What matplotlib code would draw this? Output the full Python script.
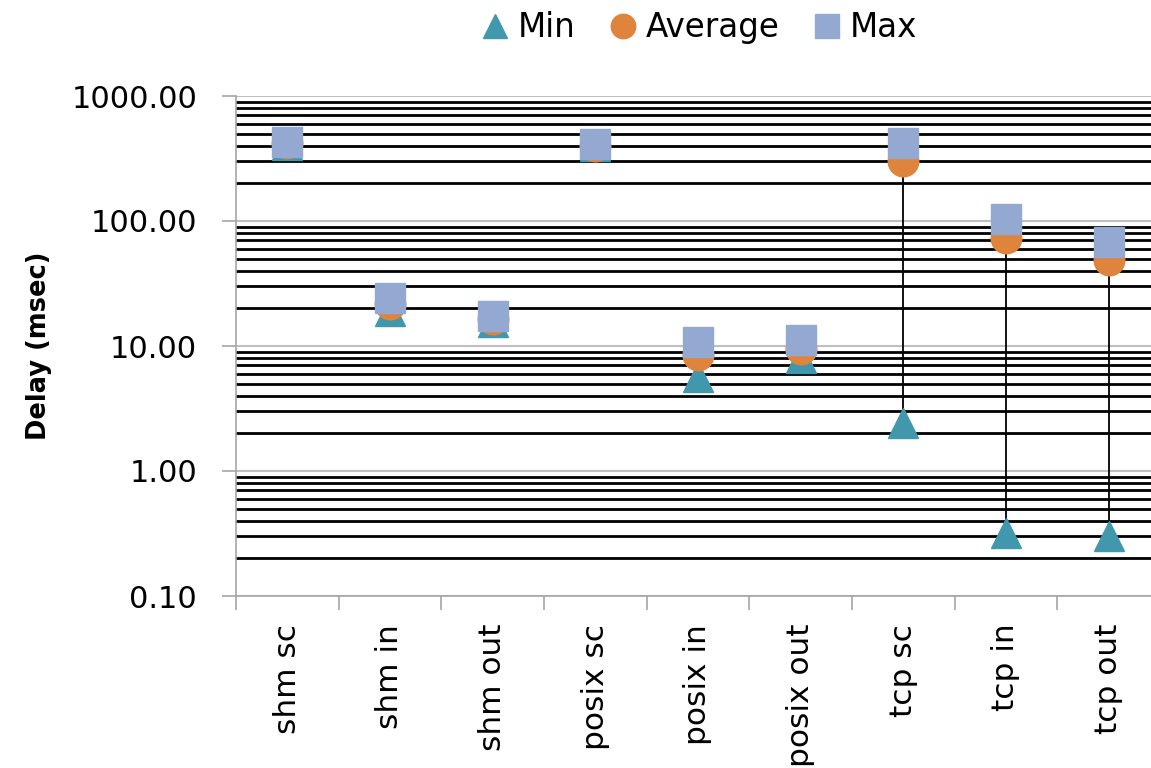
import numpy as np
import matplotlib.pyplot as plt
from matplotlib.ticker import LogLocator, FixedLocator, NullFormatter, FuncFormatter

categories = ['shm sc', 'shm in', 'shm out', 'posix sc', 'posix in',
              'posix out', 'tcp sc', 'tcp in', 'tcp out']
min_delay = [405, 19.0, 15.5, 395, 5.6, 8.0, 2.4, 0.32, 0.30]
avg_delay = [420, 21.5, 16.5, 400, 8.4, 9.4, 300, 73, 49]
max_delay = [430, 24.0, 17.5, 415, 10.8, 11.2, 420, 103, 68]

fig = plt.figure(figsize=(11.51, 7.68), dpi=100)
ax = fig.add_axes([236 / 1151, 172 / 768, (1160 - 236) / 1151, 500 / 768])

x = np.arange(len(categories))

# high-low lines behind the markers
ax.vlines(x, min_delay, max_delay, color='black', lw=1.3, zorder=2)
ax.plot(x, min_delay, ls='none', marker='^', ms=22, color='#4198AD', label='Min', zorder=3)
ax.plot(x, avg_delay, ls='none', marker='o', ms=22, color='#DE843D', label='Average', zorder=4)
ax.plot(x, max_delay, ls='none', marker='s', ms=21, color='#93A9D1', label='Max', zorder=5)

ax.set_yscale('log')
ax.set_ylim(0.1, 1000)
ax.set_xlim(-0.5, len(categories) - 0.5)

ax.yaxis.set_major_locator(LogLocator(base=10, numticks=10))
ax.yaxis.set_minor_locator(LogLocator(base=10, subs=np.arange(2, 10), numticks=10))
ax.yaxis.set_major_formatter(FuncFormatter(lambda v, p: '%.2f' % v))
ax.yaxis.set_minor_formatter(NullFormatter())
ax.grid(True, which='major', axis='y', color='#BFBFBF', lw=1.5, zorder=0)
ax.grid(True, which='minor', axis='y', color='black', lw=2.0, zorder=1)

ax.xaxis.set_major_locator(FixedLocator(np.arange(-0.5, len(categories), 1.0)))
ax.xaxis.set_major_formatter(NullFormatter())
ax.set_xticks(x, minor=True)
ax.set_xticklabels(categories, minor=True, rotation=90, va='top', ha='center', fontsize=22.5)

ax.tick_params(axis='x', which='major', length=10, color='#A6A6A6', width=1.2)
ax.tick_params(axis='x', which='minor', length=0, pad=20)
ax.tick_params(axis='y', which='major', length=10, color='#A6A6A6', width=1.2, labelsize=22, pad=18)
ax.tick_params(axis='y', which='minor', length=0)

for s in ['top', 'right']:
    ax.spines[s].set_visible(False)
for s in ['left', 'bottom']:
    ax.spines[s].set_color('#A6A6A6')
    ax.spines[s].set_linewidth(1.2)

ax.set_ylabel('Delay (msec)', fontsize=18.5, fontweight='bold')
ax.yaxis.set_label_coords(-0.199, 0.5)

fig.legend(loc='center', bbox_to_anchor=(0.607, 0.964), ncol=3, frameon=False,
           fontsize=23.5, markerscale=0.8, handlelength=0.9, handletextpad=0.25,
           columnspacing=1.0)

fig.savefig('out.png', dpi=100)
